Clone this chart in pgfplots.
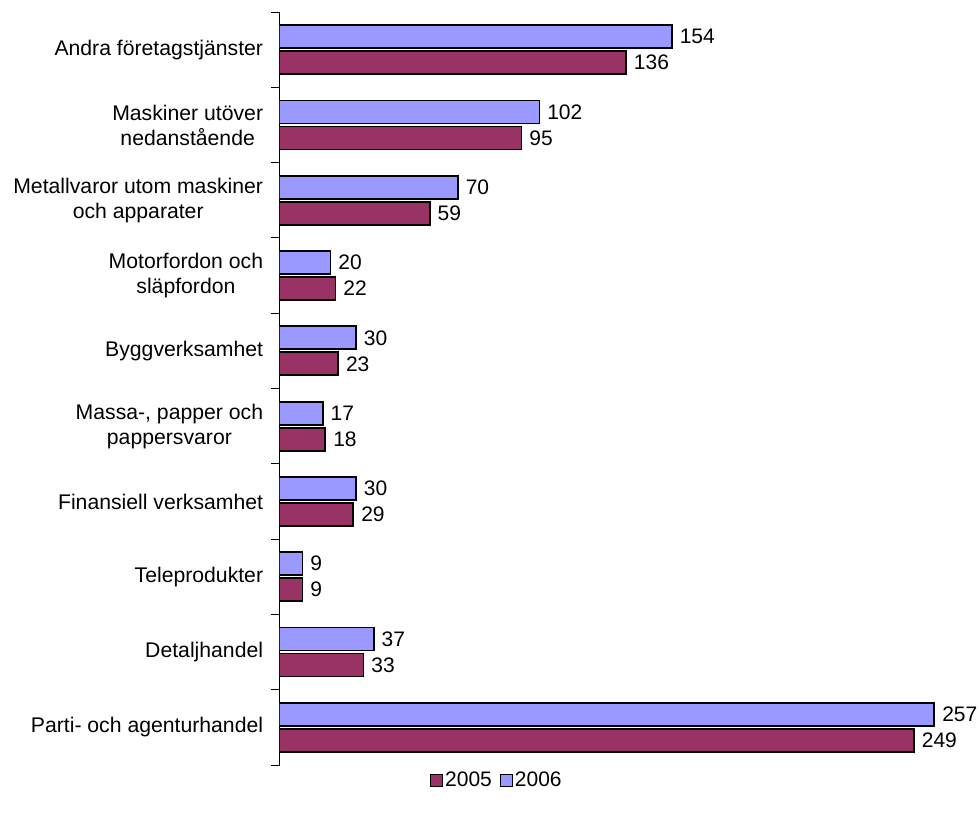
\documentclass[border=0pt]{standalone}
\usepackage{pgfplots}
\pgfplotsset{compat=1.18}
\usepackage{fontspec}
\setmainfont{Liberation Sans}

\definecolor{c2005}{HTML}{993366}
\definecolor{c2006}{HTML}{9999FF}

\begin{document}
\begin{tikzpicture}
\useasboundingbox (0,0) rectangle (489.5pt,408pt);
\begin{axis}[
    at={(139.75pt,25.5pt)}, anchor=south west,
    scale only axis,
    width=344pt, height=376.5pt,
    xbar, bar width=11.5pt,
    xmin=0, xmax=270,
    ymin=-0.5, ymax=9.5,
    hide x axis,
    axis y line=left,
    axis line style={-, black, line width=0.5pt},
    ytick={0,...,9},
    yticklabels={
        Parti- och agenturhandel,
        Detaljhandel,
        Teleprodukter,
        Finansiell verksamhet,
        {Massa-, papper och\\pappersvaror},
        Byggverksamhet,
        {Motorfordon och\\släpfordon},
        {Metallvaror utom maskiner\\och apparater},
        {Maskiner utöver\\nedanstående},
        Andra företagstjänster},
    minor ytick={-0.5,0.5,1.5,2.5,3.5,4.5,5.5,6.5,7.5,8.5,9.5},
    major tick length=0pt,
    minor tick length=4pt,
    tick align=outside,
    ytick pos=left,
    tick style={black, line width=0.5pt},
    yticklabel style={align=center, font=\fontsize{10.6}{12.5}\selectfont, inner sep=0pt, xshift=-8pt},
    /pgf/number format/assume math mode=true,
    nodes near coords,
    every node near coord/.append style={font=\fontsize{10.5}{12}\selectfont, anchor=west, inner sep=0pt, xshift=3.5pt, black},
    legend style={at={(0.316,-0.021)}, anchor=center, draw=none, legend columns=2,
        font=\fontsize{10.5}{12}\selectfont, inner sep=0pt,
        nodes={inner sep=1pt},
        /tikz/every even column/.append style={column sep=3pt}},
    legend image code/.code={\draw[#1, line width=0.5pt] (1pt,-3pt) rectangle (7pt,3pt);},
]
% 2005
\addplot[fill=c2005, draw=black, line width=0.9pt, bar shift=-6.5pt] coordinates {
    (249,0) (33,1) (9,2) (29,3) (18,4) (23,5) (22,6) (59,7) (95,8) (136,9)};
% 2006
\addplot[fill=c2006, draw=black, line width=0.9pt, bar shift=6.5pt] coordinates {
    (257,0) (37,1) (9,2) (30,3) (17,4) (30,5) (20,6) (70,7) (102,8) (154,9)};
\legend{2005, 2006}
\end{axis}
\end{tikzpicture}
\end{document}
